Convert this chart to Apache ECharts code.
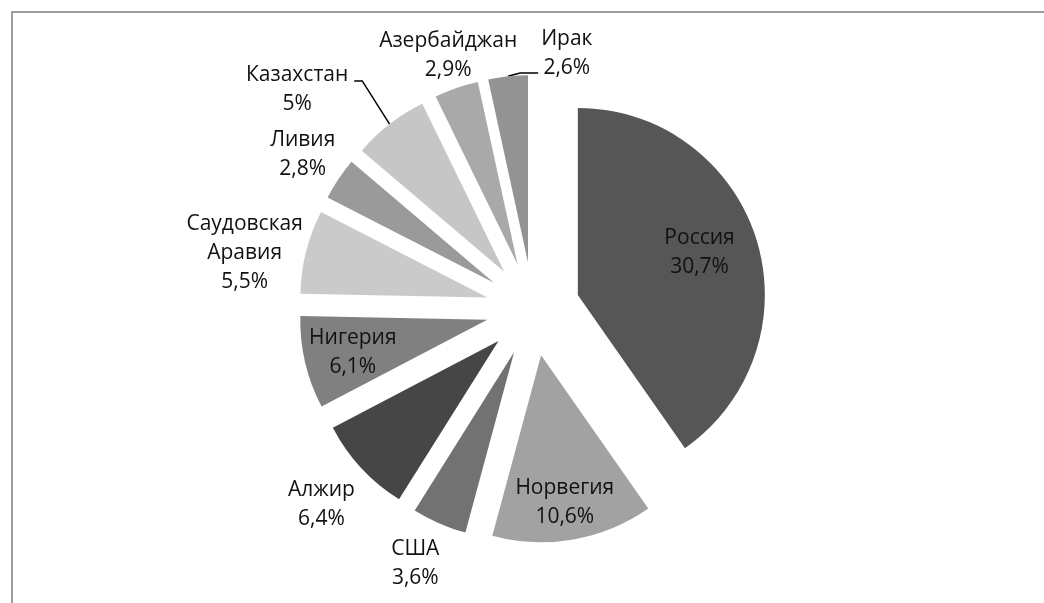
<!DOCTYPE html>
<html>
<head>
<meta charset="utf-8">
<script src="https://cdn.jsdelivr.net/npm/echarts@6/dist/echarts.min.js"></script>
<style>
  html, body { margin: 0; padding: 0; background: #fff; }
  #main { width: 1044px; height: 603px; }
</style>
</head>
<body>
<div id="main"></div>
<script>
// доли стран (%), порядок по часовой стрелке от 12 часов
const countries = ['Россия', 'Норвегия', 'США', 'Алжир', 'Нигерия', 'Саудовская\nАравия', 'Ливия', 'Казахстан', 'Азербайджан', 'Ирак']
const shares = [30.7, 10.6, 3.6, 6.4, 6.1, 5.5, 2.8, 5, 2.9, 2.6]
const sliceColors = ['#565656', '#a2a2a2', '#727272', '#464646', '#808080', '#cacaca', '#9a9a9a', '#c6c6c6', '#a9a9a9', '#939393']
// какие подписи внутри сектора, у каких есть выноска
const insideLabels = [0, 1, 4]
const leaderLines = [7, 9]

// геометрия круга
const pieCenter = [533, 309]
const pieRadius = 187
const explode = 47
// где ставить подпись: доля радиуса от центра и поворот от середины сектора (град.)
const labelRadius = [0.69, 0.80, 1.25, 1.29, 0.74, 1.32, 1.23, 1.474, 1.18, 1.133]
const labelTurn = [-1.9, 0.8, 1.4, 0, -0.5, -3.8, 0, -10.9, 0.8, 16.7]

const total = shares.reduce((a, b) => a + b, 0)
const midAngles = []
let acc = 0
shares.forEach(v => {
  midAngles.push((acc + v / 2) / total * 360)
  acc += v
})

const chart = echarts.init(document.getElementById('main'))

const pieData = countries.map((name, i) => ({
  name: name,
  value: shares[i],
  selected: true,
  itemStyle: { color: sliceColors[i] },
  label: { position: insideLabels.includes(i) ? 'inside' : 'outside' },
  labelLine: { show: leaderLines.includes(i) }
}))

// позиция подписи до выдвижения сектора (выдвижение ECharts добавляет сам)
const labelSpot = i => {
  const a = (midAngles[i] + labelTurn[i]) * Math.PI / 180
  const r = labelRadius[i] * pieRadius
  return [pieCenter[0] + r * Math.sin(a), pieCenter[1] - r * Math.cos(a)]
}

const option = {
  animation: false,
  backgroundColor: '#fff',
  graphic: [
    {
      type: 'rect',
      shape: { x: 12, y: 12, width: 1100, height: 700 },
      style: { fill: 'none', stroke: '#9c9c9c', lineWidth: 2 },
      silent: true
    }
  ],
  series: [
    {
      type: 'pie',
      center: pieCenter,
      radius: [0, pieRadius],
      startAngle: 90,
      clockwise: true,
      selectedMode: 'multiple',
      selectedOffset: explode,
      avoidLabelOverlap: false,
      data: pieData,
      label: {
        fontFamily: 'Open Sans',
        fontSize: 21,
        lineHeight: 29,
        color: '#111',
        align: 'center',
        formatter: p => p.name + '\n' + String(p.value).replace('.', ',') + '%'
      },
      labelLine: {
        lineStyle: { color: '#000', width: 1.5 }
      },
      labelLayout: function (params) {
        const i = params.dataIndex
        const [x, y] = labelSpot(i)
        const lr = params.labelRect
        // точка привязки текста зависит от исходного выравнивания
        let anchorX = lr.x + lr.width / 2
        if (params.align === 'right') anchorX = lr.x + lr.width
        if (params.align === 'left') anchorX = lr.x
        const res = {
          dx: x - anchorX,
          dy: y - (lr.y + lr.height / 2),
          align: 'center',
          hideOverlap: false
        }
        if (leaderLines.includes(i)) {
          const m = midAngles[i] * Math.PI / 180
          const start = [pieCenter[0] + pieRadius * Math.sin(m), pieCenter[1] - pieRadius * Math.cos(m)]
          let end, elbow
          if (x < start[0]) {
            end = [x + lr.width / 2 + 6, y - 9]
            elbow = [end[0] + 8, end[1]]
          } else {
            end = [x - lr.width / 2 - 3, y + 19]
            elbow = [end[0] - 18, end[1]]
          }
          res.labelLinePoints = [start, elbow, end]
        }
        return res
      },
      select: { itemStyle: { borderWidth: 0 } },
      emphasis: { disabled: true }
    }
  ]
}

chart.setOption(option)
</script>
</body>
</html>
